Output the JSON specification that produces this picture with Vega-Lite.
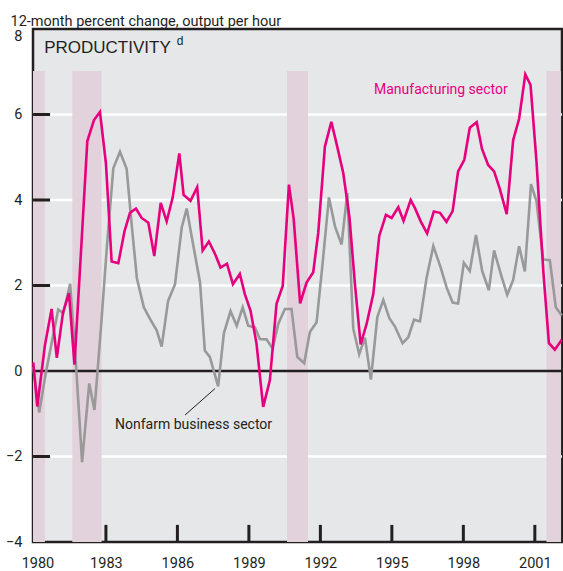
{
  "$schema": "https://vega.github.io/schema/vega-lite/v6.json",
  "width": 529,
  "height": 513,
  "autosize": {"type": "none"},
  "padding": {"left": 33, "top": 29, "right": 1, "bottom": 29},
  "background": "#ffffff",
  "config": {
    "view": {"fill": "#e6e7e8", "stroke": "#231f20", "strokeWidth": 2.5},
    "axis": {"grid": false}
  },
  "title": {
    "text": "12-month percent change, output per hour",
    "anchor": "start",
    "dx": 5,
    "dy": 14,
    "offset": 2,
    "baseline": "alphabetic",
    "font": "Roboto",
    "fontSize": 14.5,
    "fontWeight": "normal",
    "color": "#231f20"
  },
  "resolve": {"axis": {"x": "independent", "y": "independent"}},
  "datasets": {
    "recessions": [
      {"start": 1979.94, "end": 1980.44},
      {"start": 1981.59, "end": 1982.82},
      {"start": 1990.6, "end": 1991.48},
      {"start": 2001.49, "end": 2002.1}
    ],
    "gridlines": [{"value": 6}, {"value": 4}, {"value": 2}, {"value": -2}],
    "xticks": [{"year": 1983}, {"year": 1986}, {"year": 1989}, {"year": 1992}, {"year": 1995}, {"year": 1998}, {"year": 2001}],
    "zero": [{"value": 0}],
    "manufacturing": [
      {"year": 1979.95, "value": 0.2}, {"year": 1980.12, "value": -0.83}, {"year": 1980.44, "value": 0.6}, {"year": 1980.72, "value": 1.45},
      {"year": 1980.94, "value": 0.31}, {"year": 1981.2, "value": 1.37}, {"year": 1981.45, "value": 1.82}, {"year": 1981.68, "value": 0.15},
      {"year": 1981.98, "value": 3.04}, {"year": 1982.22, "value": 5.38}, {"year": 1982.5, "value": 5.87}, {"year": 1982.75, "value": 6.06},
      {"year": 1983.0, "value": 4.86}, {"year": 1983.24, "value": 2.56}, {"year": 1983.52, "value": 2.52}, {"year": 1983.78, "value": 3.27},
      {"year": 1984.01, "value": 3.7}, {"year": 1984.26, "value": 3.8}, {"year": 1984.5, "value": 3.58}, {"year": 1984.78, "value": 3.47},
      {"year": 1985.03, "value": 2.69}, {"year": 1985.3, "value": 3.93}, {"year": 1985.55, "value": 3.5}, {"year": 1985.8, "value": 4.05},
      {"year": 1986.08, "value": 5.09}, {"year": 1986.26, "value": 4.12}, {"year": 1986.55, "value": 3.98}, {"year": 1986.83, "value": 4.3},
      {"year": 1987.06, "value": 2.82}, {"year": 1987.32, "value": 3.03}, {"year": 1987.57, "value": 2.75}, {"year": 1987.81, "value": 2.42},
      {"year": 1988.08, "value": 2.51}, {"year": 1988.33, "value": 2.03}, {"year": 1988.62, "value": 2.27}, {"year": 1988.83, "value": 1.8},
      {"year": 1989.07, "value": 1.41}, {"year": 1989.32, "value": 0.64}, {"year": 1989.6, "value": -0.84}, {"year": 1989.88, "value": -0.22},
      {"year": 1990.16, "value": 1.57}, {"year": 1990.42, "value": 1.99}, {"year": 1990.68, "value": 4.36}, {"year": 1990.88, "value": 3.56},
      {"year": 1991.15, "value": 1.58}, {"year": 1991.42, "value": 2.07}, {"year": 1991.7, "value": 2.31}, {"year": 1991.91, "value": 3.23},
      {"year": 1992.19, "value": 5.25}, {"year": 1992.46, "value": 5.83}, {"year": 1992.69, "value": 5.29}, {"year": 1992.96, "value": 4.63},
      {"year": 1993.22, "value": 3.6}, {"year": 1993.45, "value": 2.03}, {"year": 1993.69, "value": 0.62}, {"year": 1993.94, "value": 1.1},
      {"year": 1994.22, "value": 1.8}, {"year": 1994.47, "value": 3.16}, {"year": 1994.75, "value": 3.65}, {"year": 1994.99, "value": 3.58},
      {"year": 1995.27, "value": 3.83}, {"year": 1995.49, "value": 3.51}, {"year": 1995.79, "value": 4.0}, {"year": 1995.97, "value": 3.81},
      {"year": 1996.21, "value": 3.5}, {"year": 1996.48, "value": 3.22}, {"year": 1996.76, "value": 3.73}, {"year": 1997.02, "value": 3.7},
      {"year": 1997.29, "value": 3.49}, {"year": 1997.55, "value": 3.74}, {"year": 1997.78, "value": 4.67}, {"year": 1998.04, "value": 4.94},
      {"year": 1998.27, "value": 5.69}, {"year": 1998.56, "value": 5.82}, {"year": 1998.78, "value": 5.2}, {"year": 1999.04, "value": 4.82},
      {"year": 1999.29, "value": 4.67}, {"year": 1999.53, "value": 4.26}, {"year": 1999.82, "value": 3.67}, {"year": 2000.09, "value": 5.4},
      {"year": 2000.34, "value": 5.9}, {"year": 2000.6, "value": 6.94}, {"year": 2000.82, "value": 6.69}, {"year": 2001.07, "value": 4.9},
      {"year": 2001.36, "value": 2.3}, {"year": 2001.59, "value": 0.65}, {"year": 2001.84, "value": 0.5}, {"year": 2002.13, "value": 0.73}
    ],
    "nonfarm": [
      {"year": 1979.95, "value": 0.1}, {"year": 1980.2, "value": -0.97}, {"year": 1980.46, "value": -0.1}, {"year": 1980.74, "value": 0.71},
      {"year": 1981.0, "value": 1.44}, {"year": 1981.21, "value": 1.35}, {"year": 1981.5, "value": 2.04}, {"year": 1981.75, "value": 0.1},
      {"year": 1982.0, "value": -2.13}, {"year": 1982.3, "value": -0.29}, {"year": 1982.52, "value": -0.91}, {"year": 1982.79, "value": 1.0},
      {"year": 1983.04, "value": 2.9}, {"year": 1983.31, "value": 4.74}, {"year": 1983.59, "value": 5.13}, {"year": 1983.87, "value": 4.73},
      {"year": 1984.08, "value": 3.43}, {"year": 1984.3, "value": 2.17}, {"year": 1984.59, "value": 1.49}, {"year": 1984.85, "value": 1.22},
      {"year": 1985.13, "value": 0.95}, {"year": 1985.34, "value": 0.57}, {"year": 1985.61, "value": 1.64}, {"year": 1985.9, "value": 2.03},
      {"year": 1986.18, "value": 3.35}, {"year": 1986.39, "value": 3.8}, {"year": 1986.66, "value": 2.96}, {"year": 1986.95, "value": 2.07},
      {"year": 1987.15, "value": 0.48}, {"year": 1987.36, "value": 0.33}, {"year": 1987.71, "value": -0.36}, {"year": 1987.95, "value": 0.88},
      {"year": 1988.23, "value": 1.4}, {"year": 1988.49, "value": 1.06}, {"year": 1988.74, "value": 1.49}, {"year": 1988.97, "value": 1.06},
      {"year": 1989.25, "value": 1.02}, {"year": 1989.46, "value": 0.75}, {"year": 1989.74, "value": 0.74}, {"year": 1990.0, "value": 0.52},
      {"year": 1990.23, "value": 1.1}, {"year": 1990.51, "value": 1.45}, {"year": 1990.79, "value": 1.45}, {"year": 1991.03, "value": 0.33},
      {"year": 1991.32, "value": 0.18}, {"year": 1991.56, "value": 0.91}, {"year": 1991.84, "value": 1.14}, {"year": 1992.09, "value": 2.5},
      {"year": 1992.36, "value": 4.06}, {"year": 1992.61, "value": 3.39}, {"year": 1992.89, "value": 2.96}, {"year": 1993.13, "value": 4.16},
      {"year": 1993.38, "value": 0.99}, {"year": 1993.63, "value": 0.39}, {"year": 1993.87, "value": 0.78}, {"year": 1994.12, "value": -0.2},
      {"year": 1994.39, "value": 1.26}, {"year": 1994.64, "value": 1.66}, {"year": 1994.89, "value": 1.24}, {"year": 1995.13, "value": 1.04},
      {"year": 1995.45, "value": 0.65}, {"year": 1995.69, "value": 0.79}, {"year": 1995.93, "value": 1.2}, {"year": 1996.18, "value": 1.16},
      {"year": 1996.46, "value": 2.19}, {"year": 1996.74, "value": 2.92}, {"year": 1997.05, "value": 2.42}, {"year": 1997.3, "value": 1.95},
      {"year": 1997.55, "value": 1.6}, {"year": 1997.78, "value": 1.58}, {"year": 1998.02, "value": 2.53}, {"year": 1998.27, "value": 2.34},
      {"year": 1998.53, "value": 3.18}, {"year": 1998.79, "value": 2.34}, {"year": 1999.07, "value": 1.89}, {"year": 1999.29, "value": 2.82},
      {"year": 1999.57, "value": 2.27}, {"year": 1999.84, "value": 1.78}, {"year": 2000.09, "value": 2.13}, {"year": 2000.34, "value": 2.92},
      {"year": 2000.58, "value": 2.33}, {"year": 2000.84, "value": 4.37}, {"year": 2001.07, "value": 3.97}, {"year": 2001.35, "value": 2.61},
      {"year": 2001.63, "value": 2.59}, {"year": 2001.88, "value": 1.49}, {"year": 2002.13, "value": 1.3}
    ],
    "heading": [{"text": "PRODUCTIVITY", "year": 1980.41, "value": 7.44}],
    "footnote": [{"text": "d", "year": 1985.97, "value": 7.63}],
    "mfgLabel": [{"text": "Manufacturing sector", "year": 1994.25, "value": 6.47}],
    "nfbLabel": [{"text": "Nonfarm business sector", "year": 1983.38, "value": -1.36}],
    "leader": [{"year": 1986.32, "value": -1.03, "year2": 1987.58, "value2": -0.41}]
  },
  "layer": [
    {
      "data": {"name": "gridlines"},
      "mark": {"type": "rule", "color": "#ffffff", "strokeWidth": 2.5},
      "encoding": {
        "y": {"field": "value", "type": "quantitative", "scale": {"domain": [-4, 8], "nice": false, "zero": false}, "axis": null}
      }
    },
    {
      "data": {"name": "recessions"},
      "mark": {"type": "rect", "color": "#e2d2dc"},
      "encoding": {
        "x": {"field": "start", "type": "quantitative", "scale": {"domain": [1979.94, 2002.14], "nice": false, "zero": false}, "axis": null},
        "x2": {"field": "end"},
        "y": {"datum": 7.02, "type": "quantitative", "axis": null},
        "y2": {"datum": -4}
      }
    },
    {
      "data": {"name": "zero"},
      "mark": {"type": "rule", "color": "#231f20", "strokeWidth": 2.5},
      "encoding": {
        "y": {"field": "value", "type": "quantitative", "axis": null}
      }
    },
    {
      "data": {"name": "gridlines"},
      "mark": {"type": "tick", "orient": "horizontal", "color": "#231f20", "opacity": 1, "size": 17, "thickness": 3},
      "encoding": {
        "x": {"datum": 1980.3, "type": "quantitative", "axis": null},
        "y": {"field": "value", "type": "quantitative", "axis": null}
      }
    },
    {
      "data": {"name": "xticks"},
      "mark": {"type": "rule", "color": "#231f20", "strokeWidth": 3},
      "encoding": {
        "x": {"field": "year", "type": "quantitative", "axis": null},
        "y": {"datum": -4, "type": "quantitative", "axis": null},
        "y2": {"datum": -3.6}
      }
    },
    {
      "data": {"name": "nonfarm"},
      "mark": {"type": "line", "color": "#999999", "strokeWidth": 2.6, "strokeJoin": "miter"},
      "encoding": {
        "x": {"field": "year", "type": "quantitative", "axis": null},
        "y": {"field": "value", "type": "quantitative", "axis": null}
      }
    },
    {
      "data": {"name": "manufacturing"},
      "mark": {"type": "line", "color": "#e6007e", "strokeWidth": 2.6, "strokeJoin": "miter"},
      "encoding": {
        "x": {
          "field": "year", "type": "quantitative",
          "axis": {
            "values": [1980, 1983, 1986, 1989, 1992, 1995, 1998, 2001],
            "format": "d",
            "title": null,
            "grid": false,
            "ticks": false,
            "domain": false,
            "labelFlush": false,
            "labelPadding": 14,
            "labelOffset": {"condition": {"test": "datum.value === 1980", "value": 3}, "value": 0},
            "labelFont": "Roboto",
            "labelFontSize": 14.5,
            "labelColor": "#231f20"
          }
        },
        "y": {
          "field": "value", "type": "quantitative",
          "axis": {
            "values": [-4, -2, 0, 2, 4, 6, 8],
            "title": null,
            "grid": false,
            "ticks": false,
            "domain": false,
            "labelPadding": 11,
            "labelOffset": {"condition": {"test": "datum.value === 8", "value": 7}, "value": 0},
            "labelFont": "Roboto",
            "labelFontSize": 14.5,
            "labelColor": "#231f20"
          }
        }
      }
    },
    {
      "data": {"name": "leader"},
      "mark": {"type": "rule", "color": "#231f20", "strokeWidth": 1},
      "encoding": {
        "x": {"field": "year", "type": "quantitative", "axis": null},
        "x2": {"field": "year2"},
        "y": {"field": "value", "type": "quantitative", "axis": null},
        "y2": {"field": "value2"}
      }
    },
    {
      "data": {"name": "heading"},
      "mark": {"type": "text", "align": "left", "baseline": "alphabetic", "font": "Liberation Sans", "fontSize": 17, "color": "#231f20"},
      "encoding": {
        "x": {"field": "year", "type": "quantitative", "axis": null},
        "y": {"field": "value", "type": "quantitative", "axis": null},
        "text": {"field": "text"}
      }
    },
    {
      "data": {"name": "footnote"},
      "mark": {"type": "text", "align": "left", "baseline": "alphabetic", "font": "Liberation Sans", "fontSize": 12, "color": "#231f20"},
      "encoding": {
        "x": {"field": "year", "type": "quantitative", "axis": null},
        "y": {"field": "value", "type": "quantitative", "axis": null},
        "text": {"field": "text"}
      }
    },
    {
      "data": {"name": "mfgLabel"},
      "mark": {"type": "text", "align": "left", "baseline": "alphabetic", "font": "Roboto", "fontSize": 14, "color": "#e6007e"},
      "encoding": {
        "x": {"field": "year", "type": "quantitative", "axis": null},
        "y": {"field": "value", "type": "quantitative", "axis": null},
        "text": {"field": "text"}
      }
    },
    {
      "data": {"name": "nfbLabel"},
      "mark": {"type": "text", "align": "left", "baseline": "alphabetic", "font": "Roboto", "fontSize": 14, "color": "#231f20"},
      "encoding": {
        "x": {"field": "year", "type": "quantitative", "axis": null},
        "y": {"field": "value", "type": "quantitative", "axis": null},
        "text": {"field": "text"}
      }
    }
  ]
}
